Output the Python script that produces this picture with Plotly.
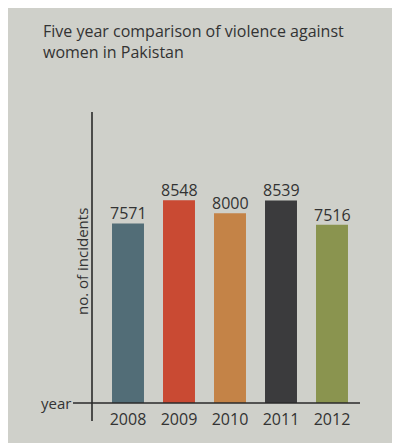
import plotly.graph_objects as go

years = ["2008", "2009", "2010", "2011", "2012"]
incidents = [7571, 8548, 8000, 8539, 7516]
bar_colors = ["#526d77", "#c94a33", "#c48347", "#3b3b3d", "#8a944f"]

title_text = "Five year comparison of violence against<br>women in Pakistan"
y_label = "no. of incidents"
x_label = "year"

OFF = 8  # page body margin
W, H = 400 - OFF, 443 - OFF
# plot area in page pixels: x 92..360, y 112..403
PL, PR, PT, PB = 92, 360, 112, 403
L, T = PL - OFF, PT - OFF
R, B = (W + OFF) - PR, (H + OFF) - PB
pw, ph = PR - PL, PB - PT

def px_x(p):
    return (p - PL) / pw

def px_y(p):
    return (PB - p) / ph

per_px = 42.15
fig = go.Figure(go.Bar(
    x=list(range(len(years))),
    y=incidents,
    marker=dict(color=bar_colors, line=dict(width=0)),
    width=0.627,
))

bg = "#cfd0ca"
line_col = "#2a2a2a"
txt = "#333333"

annotations = [
    dict(text=title_text, xref="paper", yref="paper",
         x=px_x(41), y=px_y(18), xanchor="left", yanchor="top",
         align="left", showarrow=False,
         font=dict(size=16, color=txt)),
    dict(text=x_label, xref="paper", yref="paper",
         x=px_x(73), y=0, xanchor="right", yanchor="middle",
         showarrow=False, font=dict(size=15, color=txt)),
    dict(text=y_label, xref="paper", yref="paper",
         x=px_x(82), y=px_y(262), xanchor="center", yanchor="middle",
         textangle=-90, showarrow=False,
         font=dict(size=15, color=txt)),
]
for i, v in enumerate(incidents):
    annotations.append(dict(
        text=str(v), x=i, y=v, xref="x", yref="y",
        xanchor="center", yanchor="middle", yshift=10,
        showarrow=False, font=dict(size=16, color=txt)))

fig.update_layout(
    width=W, height=H,
    margin=dict(l=L, r=R, t=T, b=B, pad=0),
    paper_bgcolor=bg,
    plot_bgcolor="rgba(0,0,0,0)",
    showlegend=False,
    font=dict(family="Open Sans", color=txt),
    xaxis=dict(
        range=[-(128 - PL) / 51, (PR - 128) / 51],
        tickvals=list(range(len(years))),
        ticktext=years,
        tickfont=dict(size=16, color=txt),
        ticklabelstandoff=5,
        showgrid=False, zeroline=False, showline=False, ticks="",
        fixedrange=True,
    ),
    yaxis=dict(
        range=[0, ph * per_px],
        showgrid=False, zeroline=False, showline=False,
        showticklabels=False, ticks="",
        fixedrange=True,
    ),
    shapes=[
        dict(type="line", xref="paper", yref="paper",
             x0=px_x(73), x1=px_x(360), y0=0, y1=0,
             line=dict(color=line_col, width=1.6)),
        dict(type="line", xref="paper", yref="paper",
             x0=0, x1=0, y0=px_y(421), y1=1,
             line=dict(color=line_col, width=1.6)),
    ],
    annotations=annotations,
)

fig.write_html("out.html")
